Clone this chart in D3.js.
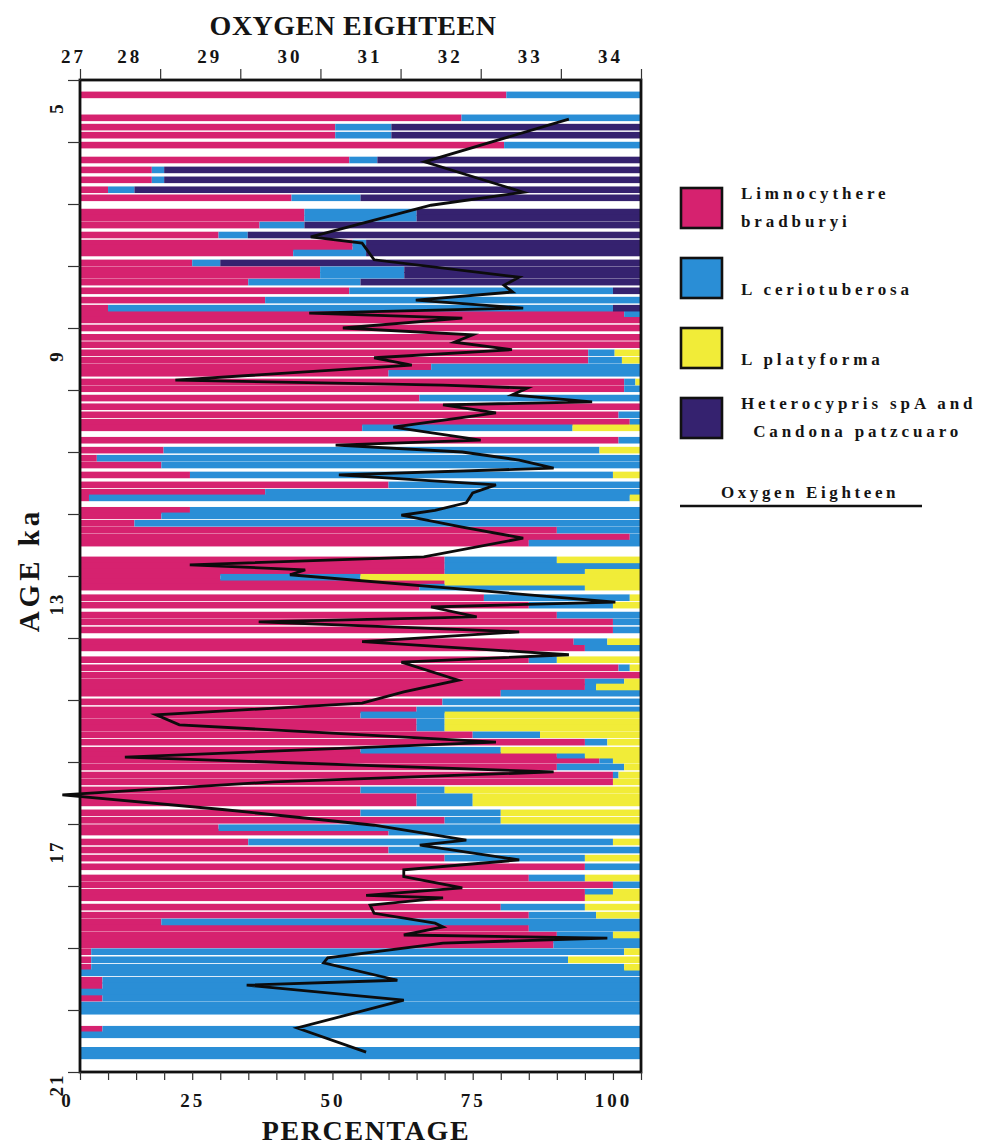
<!DOCTYPE html>
<html>
<head>
<meta charset="utf-8">
<script src="https://cdn.jsdelivr.net/npm/d3@7"></script>
<style>
  body { margin: 0; background: #fff; }
  svg { display: block; }
  text { font-family: "Liberation Serif", "DejaVu Serif", serif; font-weight: bold; fill: #141414; }
</style>
</head>
<body>
<svg id="chart" width="991" height="1145"></svg>
<script>
// Ostracode species shown as stacked percentage bars, in stacking order
const speciesNames = ["Limnocythere bradburyi", "L ceriotuberosa", "L platyforma", "Heterocypris spA and Candona patzcuaro"];
const speciesColors = ["#d6226f", "#2a8ed6", "#f1ec38", "#35226f"];

// Sample ages (ka) and relative abundance (%) of each species
const sampleAge = [5.24,5.61,5.76,5.89,6.05,6.29,6.45,6.61,6.77,6.90,7.13,7.23,7.34,7.50,7.63,7.71,7.79,7.95,8.06,8.15,
  8.26,8.40,8.55,8.68,8.77,8.87,9.00,9.15,9.27,9.40,9.52,9.63,9.73,9.87,9.98,10.13,10.27,10.40,10.52,10.61,
  10.81,10.97,11.10,11.21,11.37,11.53,11.65,11.74,11.94,12.03,12.15,12.26,12.37,12.47,12.74,12.84,12.94,13.02,13.10,13.18,
  13.35,13.47,13.63,13.74,13.87,14.06,14.16,14.35,14.48,14.60,14.71,14.79,14.89,15.03,15.16,15.24,15.35,15.45,15.56,15.68,
  15.81,15.89,15.97,16.08,16.21,16.32,16.45,16.56,16.66,16.82,16.94,17.06,17.13,17.29,17.42,17.55,17.69,17.87,17.98,18.10,
  18.19,18.34,18.47,18.58,18.68,18.79,18.87,18.95,19.06,19.19,19.31,19.40,19.52,19.61,19.71,19.81,19.92,20.02,20.31,20.40,
  20.65,20.74];
const pctBradburyi = [76,68,45.5,45.5,75.6,48,12.8,12.8,5,37.7,40,40,32,24.7,48.6,48.6,38,20,42.8,42.8,
  30,48,33,5,97,100,100,100,100,90.6,90.6,62.6,55,97,97,60.5,100,96,98,50.3,
  96,14.9,3,14.5,19.6,55,33,1.6,19.6,14.5,9.7,85,98,80,65,65,65,25,65,60.5,
  72,80,85,95,95,88,90,80,96,100,90,90,75,64.6,60,50,60,60,70,90,
  50,85,92.6,85,95,95,50,60,60,50,65,24.7,55,30,55,65,90,80,95,90,
  90,75,80,14.5,80,85,84.4,84.4,2,2,2,0,4,4,0,4,0,0,4,0,
  0,0];
const pctCeriotuberosa = [24,32,10,10,24.4,5,2.2,2.2,4.7,12.3,20,20,8,5.2,2.4,2.4,13,5,15,15,
  20,47,67,90,3,0,0,0,0,4.7,6,37.4,45,2,3,39.5,0,4,2,37.5,
  4,77.7,97,85.5,75.4,45,67,96.4,80.4,85.5,90.3,15,2,20,20,35,25,25,0,29.5,
  26,15,15,5,5,6,10,5,2,0,7,2,25,35.4,40,15,5,5,12,4,
  25,5,2.4,12,1,0,15,10,10,25,10,75.3,45,65,45,25,10,10,5,5,
  0,15,12,85.5,20,10,15.6,15.6,95,85,95,100,96,96,100,96,100,100,96,100,
  100,100];
const pctPlatyforma = [0,0,0,0,0,0,0,0,0,0,0,0,0,0,0,0,0,0,0,0,
  0,0,0,0,0,0,0,0,0,4.7,3.4,0,0,1,0,0,0,0,0,12.2,
  0,7.4,0,0,5,0,0,2,0,0,0,0,0,0,15,0,10,50,35,10,
  2,5,0,0,0,6,0,15,2,0,3,8,0,0,0,35,35,35,18,6,
  25,10,5,3,4,5,35,30,30,25,25,0,0,5,0,10,0,10,0,5,
  10,10,8,0,0,5,0,0,3,13,3,0,0,0,0,0,0,0,0,0,
  0,0];
const pctHeterocypris = [0,0,44.5,44.5,0,47,85,85,90.3,50,40,40,60,70.1,49,49,49,75,42.2,42.2,
  50,5,0,5,0,0,0,0,0,0,0,0,0,0,0,0,0,0,0,0,
  0,0,0,0,0,0,0,0,0,0,0,0,0,0,0,0,0,0,0,0,
  0,0,0,0,0,0,0,0,0,0,0,0,0,0,0,0,0,0,0,0,
  0,0,0,0,0,0,0,0,0,0,0,0,0,0,0,0,0,0,0,0,
  0,0,0,0,0,0,0,0,0,0,0,0,0,0,0,0,0,0,0,0,
  0,0];

// Oxygen-18 record: ages (ka) and values
const o18Age = [5.63,6.32,6.81,7.02,7.53,7.63,7.90,8.18,8.31,8.42,8.55,8.68,8.76,8.84,9.00,9.11,9.23,9.35,9.48,9.60,
  9.84,9.92,9.97,10.08,10.19,10.24,10.37,10.60,10.81,10.89,11.00,11.13,11.26,11.37,11.53,11.66,11.82,11.94,12.02,12.21,
  12.39,12.69,12.82,12.90,12.98,13.42,13.50,13.66,13.74,13.90,14.06,14.27,14.39,14.68,14.87,15.05,15.24,15.40,15.68,15.92,
  16.16,16.32,16.53,16.77,17.02,17.26,17.34,17.58,17.74,17.85,18.03,18.15,18.19,18.31,18.44,18.60,18.66,18.79,18.84,18.92,
  19.16,19.24,19.52,19.60,19.84,20.29,20.68];
const o18Value = [33.10,31.30,32.53,31.38,29.88,30.52,30.67,32.48,32.29,32.40,31.19,32.53,29.86,31.77,30.28,31.90,31.67,32.39,30.67,31.14,
  28.19,31.53,32.58,32.39,33.39,31.53,32.19,30.91,32.00,30.19,31.77,32.48,32.91,30.23,32.19,31.90,31.82,31.43,31.01,31.77,
  32.53,31.29,28.37,29.81,29.62,33.68,31.38,31.95,29.23,32.48,30.52,33.10,31.01,31.72,31.04,30.52,27.95,28.24,32.19,27.56,
  32.91,29.42,26.78,28.81,30.67,31.82,31.24,32.48,31.04,31.04,31.77,30.57,31.53,30.62,30.67,31.43,31.53,31.04,33.58,31.53,
  30.09,30.04,30.96,29.08,31.04,29.71,30.57];

// Axis ticks
const o18Ticks = [27, 28, 29, 30, 31, 32, 33, 34];
const pctTicks = d3.range(0, 101, 5);
const pctLabels = [0, 25, 50, 75, 100];
const ageTicks = d3.range(5, 22, 1);
const ageLabels = [5, 9, 13, 17, 21];

const svg = d3.select("#chart");
const plot = { left: 80, right: 641, top: 80, bottom: 1072 };

const xPct = d3.scaleLinear().domain([0, 100]).range([plot.left, plot.right]);
const xO18 = d3.scaleLinear().domain([27, 34]).range([plot.left, plot.right]);
const yAge = d3.scaleLinear().domain([5, 21]).range([plot.top, plot.bottom]);

// Build stacked rows from the species arrays
const rows = sampleAge.map((age, i) => ({
  age,
  s0: pctBradburyi[i], s1: pctCeriotuberosa[i], s2: pctPlatyforma[i], s3: pctHeterocypris[i]
}));
const stack = d3.stack().keys(["s0", "s1", "s2", "s3"]);
const layers = stack(rows);

const barH = 6.6;
const barsG = svg.append("g");
layers.forEach((layer, k) => {
  barsG.append("g").attr("fill", speciesColors[k])
    .selectAll("rect").data(layer).join("rect")
    .attr("x", d => xPct(d[0]))
    .attr("width", d => Math.max(0, xPct(d[1]) - xPct(d[0])))
    .attr("y", d => yAge(d.data.age) - barH / 2)
    .attr("height", barH);
});

// Frame
svg.append("rect")
  .attr("x", plot.left).attr("y", plot.top)
  .attr("width", plot.right - plot.left).attr("height", plot.bottom - plot.top)
  .attr("fill", "none").attr("stroke", "#111").attr("stroke-width", 2.8);

// Oxygen-18 curve
const line = d3.line().x(d => xO18(d[1])).y(d => yAge(d[0]));
svg.append("path")
  .datum(o18Age.map((a, i) => [a, o18Value[i]]))
  .attr("d", line)
  .attr("fill", "none").attr("stroke", "#0c0c0c").attr("stroke-width", 2.8)
  .attr("stroke-linejoin", "miter").attr("stroke-miterlimit", 5);

// Top axis: oxygen eighteen
const topAxis = svg.append("g").attr("transform", `translate(0,${plot.top})`)
  .call(d3.axisTop(xO18).tickValues(o18Ticks).tickFormat(d3.format("d"))
    .tickSize(11).tickSizeOuter(0).tickPadding(6));
topAxis.select(".domain").remove();
topAxis.selectAll("line").attr("stroke", "#333").attr("stroke-width", 1.2);
topAxis.selectAll("text")
  .attr("dx", d => d === 27 ? -7 : -31)
  .style("font-size", "19px").style("letter-spacing", "3px").attr("fill", "#141414");

// Bottom axis: percentage
const botAxis = svg.append("g").attr("transform", `translate(0,${plot.bottom})`)
  .call(d3.axisBottom(xPct).tickValues(pctTicks).tickSize(8).tickSizeOuter(0).tickPadding(14)
    .tickFormat(d => pctLabels.includes(d) ? d : ""));
botAxis.select(".domain").remove();
botAxis.selectAll("line").attr("stroke", "#333").attr("stroke-width", 1.2);
botAxis.selectAll("text")
  .attr("dx", d => d === 0 ? -13 : -28)
  .style("font-size", "19px").style("letter-spacing", "3px").attr("fill", "#141414");

// Left axis: age
const leftAxis = svg.append("g").attr("transform", `translate(${plot.left},0)`)
  .call(d3.axisLeft(yAge).tickValues(ageTicks).tickSize(12).tickSizeOuter(0).tickFormat(""));
leftAxis.select(".domain").remove();
leftAxis.selectAll("line").attr("stroke", "#333").attr("stroke-width", 1.2);
svg.append("g").selectAll("text").data(ageLabels).join("text")
  .attr("transform", d => `translate(56,${yAge(d) + (d === 21 ? 13 : 28)}) rotate(-90)`)
  .attr("text-anchor", "middle").attr("dy", "0.35em")
  .style("font-size", "19px").style("letter-spacing", "2px")
  .text(d => d);

// Axis titles
svg.append("text").attr("x", 353).attr("y", 35).attr("text-anchor", "middle")
  .style("font-size", "28px").style("letter-spacing", "0.5px").text("OXYGEN EIGHTEEN");
svg.append("text").attr("x", 366).attr("y", 1140).attr("text-anchor", "middle")
  .style("font-size", "28px").style("letter-spacing", "1.6px").text("PERCENTAGE");
svg.append("text").attr("transform", "translate(39,570) rotate(-90)").attr("text-anchor", "middle")
  .style("font-size", "29px").style("letter-spacing", "4px").text("AGE ka");

// Legend
const legend = svg.append("g");
const legendRows = [
  { y: 188, lines: ["Limnocythere", "bradburyi"], ty: [199, 227] },
  { y: 258, lines: ["L ceriotuberosa"], ty: [295] },
  { y: 328, lines: ["L platyforma"], ty: [365] },
  { y: 398, lines: ["Heterocypris spA and", " Candona patzcuaro"], ty: [409, 437] }
];
legendRows.forEach((r, i) => {
  legend.append("rect").attr("x", 681).attr("y", r.y).attr("width", 41).attr("height", 40)
    .attr("fill", speciesColors[i]).attr("stroke", "#111").attr("stroke-width", 2.6);
  r.lines.forEach((t, j) => {
    legend.append("text").attr("x", 741 + (j === 1 && i === 3 ? 4 : 0)).attr("y", r.ty[j])
      .style("font-size", "17px").style("letter-spacing", "3.9px").attr("xml:space", "preserve").text(t);
  });
});
legend.append("text").attr("x", 810).attr("y", 498).attr("text-anchor", "middle")
  .style("font-size", "17px").style("letter-spacing", "3.6px").text("Oxygen Eighteen");
legend.append("line").attr("x1", 680).attr("x2", 922).attr("y1", 506).attr("y2", 506)
  .attr("stroke", "#111").attr("stroke-width", 2.6);
</script>
</body>
</html>
